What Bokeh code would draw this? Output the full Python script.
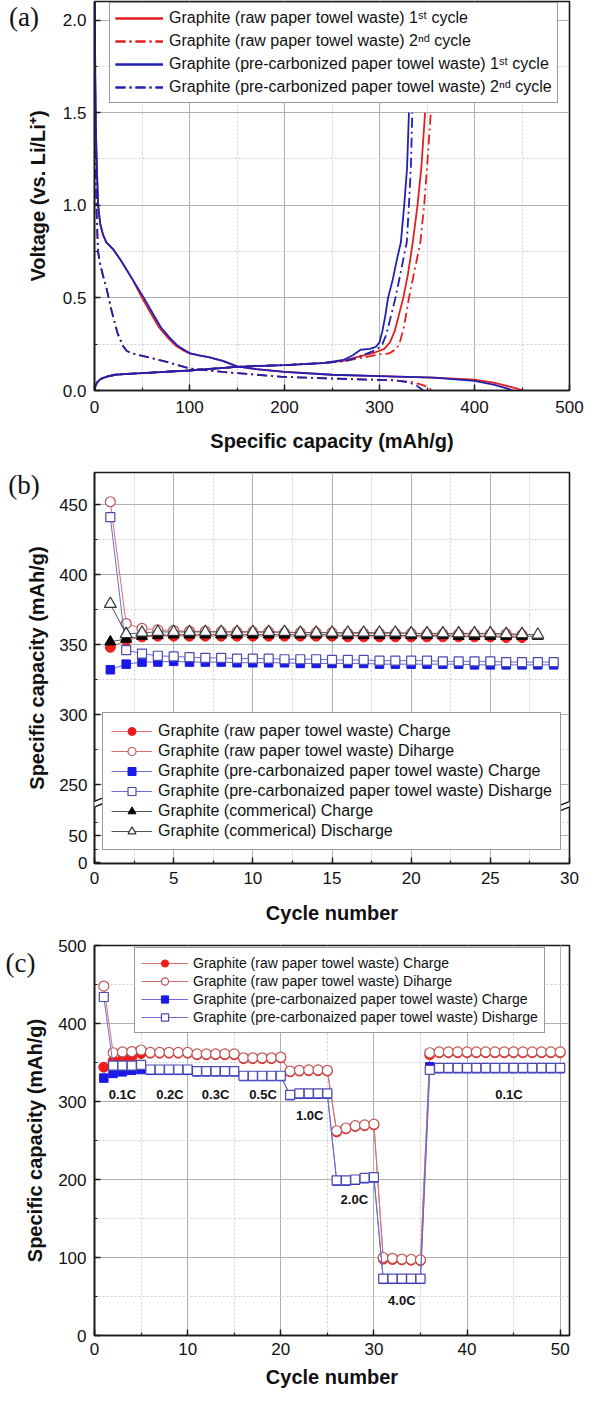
import math
from bokeh.plotting import figure
from bokeh.layouts import column
from bokeh.models import (Range1d, SingleIntervalTicker, FixedTicker, Label,
                          NumeralTickFormatter, Arrow, PolyAnnotation)
from bokeh.core.properties import value
from bokeh.embed import file_html
from bokeh.resources import INLINE

# ======================= DATA : panel (a) voltage profiles =======================
raw1_dis_cap = [0, 0.3, 0.8, 1.5, 2.5, 3.8, 6, 9, 12.5, 20, 28, 40, 50, 60, 68, 78, 86, 94, 100, 110,
                120, 135, 150, 170, 200, 250, 300, 357, 400, 420, 433, 443, 451]
raw1_dis_v = [2.8, 2.1, 1.7, 1.4, 1.2, 1.0, 0.9, 0.84, 0.8, 0.76, 0.7, 0.6, 0.5, 0.41, 0.34, 0.28, 0.24, 0.215, 0.2, 0.19,
              0.18, 0.16, 0.13, 0.115, 0.1, 0.085, 0.078, 0.07, 0.058, 0.042, 0.026, 0.013, 0.0]
raw1_chg_cap = [0, 1, 3, 6, 10, 15, 22, 35, 60, 100, 150, 200, 240, 262, 280, 295, 305, 311, 316, 320,
                325, 330, 335, 340, 344, 348]
raw1_chg_v = [0, 0.025, 0.045, 0.06, 0.07, 0.078, 0.085, 0.09, 0.097, 0.108, 0.128, 0.137, 0.148, 0.16, 0.185, 0.205,
              0.225, 0.26, 0.32, 0.4, 0.5, 0.63, 0.8, 1.0, 1.2, 1.5]

raw2_dis_cap = [0, 0.5, 1, 2, 3, 3.7, 6, 9, 12.3, 18, 24.2, 30, 34, 40, 48, 60, 75, 99, 135, 198,
                253, 316, 335, 345, 352, 355]
raw2_dis_v = [2.6, 1.8, 1.3, 1.0, 0.85, 0.75, 0.68, 0.62, 0.56, 0.43, 0.31, 0.24, 0.213, 0.2, 0.19, 0.175, 0.156, 0.12,
              0.1, 0.074, 0.064, 0.055, 0.045, 0.03, 0.015, 0.0]
raw2_chg_cap = [0, 1, 3, 6, 10, 15, 22, 35, 60, 100, 150, 200, 240, 265, 285, 300, 310, 318, 322, 326,
                331, 337, 343, 347, 350, 354]
raw2_chg_v = [0, 0.025, 0.045, 0.06, 0.07, 0.078, 0.085, 0.09, 0.097, 0.108, 0.128, 0.137, 0.148, 0.16, 0.18, 0.195,
              0.2, 0.225, 0.27, 0.35, 0.5, 0.65, 0.8, 1.0, 1.2, 1.5]

pre1_dis_cap = [0, 0.3, 0.8, 1.5, 2.5, 3.8, 6, 9, 12.5, 20, 28, 40, 52, 62, 70, 80, 88, 96, 101, 110,
                120, 135, 150, 170, 200, 250, 300, 357, 400, 420, 433, 440.5]
pre1_dis_v = [2.8, 2.1, 1.7, 1.4, 1.2, 1.0, 0.9, 0.84, 0.8, 0.76, 0.7, 0.6, 0.5, 0.41, 0.34, 0.28, 0.24, 0.215, 0.2, 0.19,
              0.18, 0.16, 0.13, 0.115, 0.1, 0.085, 0.078, 0.07, 0.052, 0.032, 0.013, 0.0]
pre1_chg_cap = [0, 1, 3, 6, 10, 15, 22, 35, 60, 100, 150, 200, 240, 262, 272, 280, 290, 296, 300, 303,
                306, 309, 314, 318, 322.5, 326, 329, 331]
pre1_chg_v = [0, 0.025, 0.045, 0.06, 0.07, 0.078, 0.085, 0.09, 0.097, 0.108, 0.128, 0.137, 0.148, 0.165, 0.19, 0.22,
              0.225, 0.235, 0.26, 0.32, 0.4, 0.5, 0.6, 0.7, 0.8, 1.0, 1.2, 1.5]

pre2_dis_cap = [0, 0.5, 1, 2, 3, 3.7, 6, 9, 12.3, 18, 24.2, 30, 34, 40, 48, 60, 75, 99, 135, 198,
                253, 316, 330, 338, 343, 346]
pre2_dis_v = [2.6, 1.8, 1.3, 1.0, 0.85, 0.75, 0.68, 0.62, 0.56, 0.43, 0.31, 0.24, 0.213, 0.2, 0.19, 0.175, 0.156, 0.12,
              0.1, 0.074, 0.064, 0.055, 0.045, 0.03, 0.012, 0.0]
pre2_chg_cap = [0, 1, 3, 6, 10, 15, 22, 35, 60, 100, 150, 200, 240, 265, 280, 292, 298, 303, 307, 311,
                316.8, 322, 328.7, 331, 333, 334.5]
pre2_chg_v = [0, 0.025, 0.045, 0.06, 0.07, 0.078, 0.085, 0.09, 0.097, 0.108, 0.128, 0.137, 0.148, 0.16, 0.185, 0.21,
              0.225, 0.25, 0.3, 0.38, 0.5, 0.63, 0.8, 1.0, 1.2, 1.5]

legend_a = ["Graphite (raw paper towel waste) 1\u02e2\u1d57 cycle",
            "Graphite (raw paper towel waste) 2\u207f\u1d48 cycle",
            "Graphite (pre-carbonized paper towel waste) 1\u02e2\u1d57 cycle",
            "Graphite (pre-carbonized paper towel waste) 2\u207f\u1d48 cycle"]

# ======================= DATA : panel (b) cycling =======================
b_cyc_raw = [1, 2, 3, 4, 5, 6, 7, 8, 9, 10, 11, 12, 13, 14, 15, 16, 17, 18, 19, 20, 21, 22, 23, 24, 25, 26, 27]
b_raw_chg = [348, 353, 355.5, 356, 356, 356, 356, 356, 356, 356, 356, 356, 356, 356, 356, 355.5, 355.5, 355.5,
             355.5, 355.5, 355.5, 355.5, 355.5, 355.5, 355.5, 355, 355]
b_raw_dis = [452, 365, 361.5, 360.5, 360, 359.5, 359.5, 359, 359, 359, 359, 358.5, 358.5, 358.5, 358.5, 358, 358,
             358, 358, 358, 357.5, 357.5, 357.5, 357.5, 357.5, 357.5, 357]

b_cyc_com = [1, 2, 3, 4, 5, 6, 7, 8, 9, 10, 11, 12, 13, 14, 15, 16, 17, 18, 19, 20, 21, 22, 23, 24, 25, 26, 27, 28]
b_com_chg = [352, 354, 356, 356.5, 357, 357, 357, 357, 357, 357, 357, 357, 357, 357, 357, 356.5, 356.5, 356.5,
             356.5, 356.5, 356.5, 356.5, 356, 356, 356, 356, 356, 356]
b_com_dis = [379, 357.5, 358.5, 359, 359, 359, 359, 359, 359, 359, 359, 359, 358.5, 358.5, 358.5, 358.5, 358.5,
             358.5, 358.5, 358, 358, 358, 358, 358, 358, 357.5, 357.5, 357]

b_cyc_pre = [1, 2, 3, 4, 5, 6, 7, 8, 9, 10, 11, 12, 13, 14, 15, 16, 17, 18, 19, 20, 21, 22, 23, 24, 25, 26, 27, 28, 29]
b_pre_chg = [332, 336, 337.5, 337.5, 338, 337.5, 337.5, 337.5, 337, 337, 337, 337, 336.5, 336.5, 336.5, 336.5,
             336.5, 336, 336, 336, 336, 336, 336, 335.5, 335.5, 335.5, 335.5, 335.5, 335.5]
b_pre_dis = [441, 346, 343.5, 342, 341.5, 341, 340.5, 340.5, 340, 340, 340, 339.5, 339.5, 339.5, 339, 339, 339,
             338.5, 338.5, 338.5, 338.5, 338, 338, 338, 338, 337.5, 337.5, 337.5, 337.5]

legend_b = ["Graphite (raw paper towel waste) Charge",
            "Graphite (raw paper towel waste) Diharge",
            "Graphite (pre-carbonaized paper towel waste) Charge",
            "Graphite (pre-carbonaized paper towel waste) Disharge",
            "Graphite (commerical) Charge",
            "Graphite (commerical) Discharge"]

# lower (broken) part of the (b) y axis: tick texts and their places on the axis
b_low_tick_pos = [194.0, 213.3]
b_low_tick_txt = ["0", "50"]
b_low_minor_pos = [203.6, 223.0]
b_upper_ticks = [250, 300, 350, 400, 450]
b_upper_minor = [275, 325, 375, 425]

# ======================= DATA : panel (c) rate capability =======================
c_cyc = [1, 2, 3, 4, 5, 6, 7, 8, 9, 10, 11, 12, 13, 14, 15, 16, 17, 18, 19, 20, 21, 22, 23, 24, 25,
         26, 27, 28, 29, 30, 31, 32, 33, 34, 35, 36, 37, 38, 39, 40, 41, 42, 43, 44, 45, 46, 47, 48, 49, 50]
c_raw_dis = [448, 362.5, 363.5, 364, 366, 363, 363, 363, 363, 363,
             361, 361, 361, 361, 361, 356, 356, 356, 356, 357,
             339, 340, 340.5, 340.5, 340, 262.5, 266, 269, 270, 271,
             100, 99, 98, 97.5, 97, 362.5, 363.5, 363.5, 363.5, 363.5,
             363.5, 363.5, 363.5, 363.5, 363.5, 363.5, 363.5, 363.5, 363.5, 363.5]
c_raw_chg = [344, 352, 354, 357, 361.5, 362, 362, 362, 362, 362,
             360, 360, 360, 360, 360, 355, 355, 355, 355, 356,
             338, 339, 339.5, 339.5, 339, 261, 265, 268, 269, 270,
             98, 97.5, 97, 96.5, 96, 360, 362.5, 362.5, 362.5, 362.5,
             362.5, 362.5, 362.5, 362.5, 362.5, 362.5, 362.5, 362.5, 362.5, 362.5]
c_pre_dis = [434, 346, 346, 346, 347, 341, 341, 341, 341, 341,
             339, 339, 339, 339, 339, 333, 333, 333, 333, 333,
             308.5, 310.5, 310.5, 310.5, 310.5, 199, 199, 200, 202, 203,
             73, 73, 73, 73, 73, 340.5, 343, 343, 343, 343,
             343, 343, 343, 343, 343, 343, 343, 343, 343, 343]
c_pre_chg = [330, 336, 338, 340, 341, 340, 340, 340, 340, 340,
             338, 338, 338, 338, 338, 332, 332, 332, 332, 332,
             307.5, 309.5, 309.5, 309.5, 309.5, 198, 198, 199, 201, 202,
             72, 72, 72, 72, 72, 344.5, 342, 342, 342, 342,
             342, 342, 342, 342, 342, 342, 342, 342, 342, 342]
c_rate_text = ["0.1C", "0.2C", "0.3C", "0.5C", "1.0C", "2.0C", "4.0C", "0.1C"]
c_rate_x = [3.0, 8.1, 13.0, 18.1, 23.1, 27.9, 33.0, 44.5]
c_rate_y = [309, 309, 309, 309, 282, 174, 45, 309]

# ======================= STYLE =======================
FONT = "Liberation Sans"
SERIF = "Liberation Serif"
INK = "#1a1a1a"
RED = "#e02020"
BLUE = "#2020b4"
DASHDOT = "10 4 2 4"
RED_LINE = "#d87070"
RED_EDGE = "#c05555"
RED_FILL = "#ee1c1c"
BLUE_LINE = "#6a6ad0"
BLUE_EDGE = "#4b4bb0"
BLUE_FILL = "#1a1ae6"
BLK_LINE = "#555555"


def style(p, xlabel, x_lab_std, y_lab_std, x_ttl_std):
    p.outline_line_color = INK
    p.outline_line_width = 1.6
    p.outline_line_alpha = 1
    for ax in (p.xaxis[0], p.yaxis[0]):
        ax.axis_line_color = INK
        ax.axis_line_width = 1.6
        ax.major_tick_in = 6
        ax.major_tick_out = 0
        ax.minor_tick_in = 3
        ax.minor_tick_out = 0
        ax.major_tick_line_color = INK
        ax.major_tick_line_width = 1.4
        ax.minor_tick_line_color = INK
        ax.minor_tick_line_width = 1.2
        ax.major_label_text_font = FONT
        ax.major_label_text_font_size = "17px"
        ax.major_label_text_color = "#111111"
        ax.axis_label_text_font = FONT
        ax.axis_label_text_font_style = "bold"
        ax.axis_label_text_font_size = "20px"
        ax.axis_label_text_color = "#111111"
    p.xaxis[0].axis_label = xlabel
    p.xaxis[0].major_label_standoff = x_lab_std
    p.yaxis[0].major_label_standoff = y_lab_std
    p.xaxis[0].axis_label_standoff = x_ttl_std
    for g in p.grid:
        g.grid_line_color = "#b0b0b0"
        g.grid_line_width = 1
        g.minor_grid_line_color = "#cfcfcf"
        g.minor_grid_line_dash = "2 2"
        g.minor_grid_line_width = 1


def style_legend(leg, loc, font_size, glyph_w, label_h, spacing, padding, standoff):
    leg.location = loc
    leg.margin = 0
    leg.padding = padding
    leg.spacing = spacing
    leg.glyph_width = glyph_w
    leg.glyph_height = label_h
    leg.label_height = label_h
    leg.label_standoff = standoff
    leg.label_text_font = FONT
    leg.label_text_font_size = font_size
    leg.label_text_color = "#111111"
    leg.border_line_color = "#333333"
    leg.border_line_width = 1
    leg.background_fill_color = "white"
    leg.background_fill_alpha = 1


def set_ticker(p, xt, yt):
    p.xaxis[0].ticker = xt
    p.xgrid[0].ticker = xt
    p.yaxis[0].ticker = yt
    p.ygrid[0].ticker = yt


def side_texts(p, tag_x, tag_y, tag_text, title_x, title_y, title_text):
    # panel tag and rotated y-axis title, kept in the left side panel so they are not clipped
    p.add_layout(Label(x=tag_x, y=tag_y, text=tag_text, text_font=SERIF, text_font_size="27px",
                       text_baseline="top", text_align="left", text_color="#111111"), "left")
    p.add_layout(Label(x=title_x, y=title_y, text=title_text, text_font=FONT, text_font_size="20px",
                       text_font_style="bold", angle=math.pi / 2, text_baseline="middle",
                       text_align="center", text_color="#111111"), "left")


# ----------------------- panel (a) -----------------------
pa = figure(width=586, height=460, x_range=Range1d(0, 500), y_range=Range1d(0, 2.1),
            output_backend="svg", toolbar_location=None,
            min_border_left=90, min_border_right=17, min_border_top=1, min_border_bottom=70)
set_ticker(pa, SingleIntervalTicker(interval=100, num_minor_ticks=2),
           SingleIntervalTicker(interval=0.5, num_minor_ticks=2))
style(pa, "Specific capacity (mAh/g)", 10, 8, 14)
pa.yaxis[0].formatter = NumeralTickFormatter(format="0.0")

pa.line(raw1_dis_cap, raw1_dis_v, color=RED, line_width=1.8, legend_label=legend_a[0])
pa.line(raw1_chg_cap, raw1_chg_v, color=RED, line_width=1.8, legend_label=legend_a[0])
pa.line(raw2_dis_cap, raw2_dis_v, color=RED, line_width=1.8, line_dash=DASHDOT, legend_label=legend_a[1])
pa.line(raw2_chg_cap, raw2_chg_v, color=RED, line_width=1.8, line_dash=DASHDOT, legend_label=legend_a[1])
pa.line(pre1_dis_cap, pre1_dis_v, color=BLUE, line_width=1.8, legend_label=legend_a[2])
pa.line(pre1_chg_cap, pre1_chg_v, color=BLUE, line_width=1.8, legend_label=legend_a[2])
pa.line(pre2_dis_cap, pre2_dis_v, color=BLUE, line_width=1.8, line_dash=DASHDOT, legend_label=legend_a[3])
pa.line(pre2_chg_cap, pre2_chg_v, color=BLUE, line_width=1.8, line_dash=DASHDOT, legend_label=legend_a[3])
style_legend(pa.legend[0], (15, 287), "16px", 48, 20, 3, 5, 6)
side_texts(pa, -90, 2.095, "(a)", -59.5, 1.05, "Voltage (vs. Li/Li\u207a)")

# ----------------------- panel (b) -----------------------
pb = figure(width=586, height=470, x_range=Range1d(0, 30), y_range=Range1d(193.6, 472.9),
            output_backend="svg", toolbar_location=None,
            min_border_left=90, min_border_right=17, min_border_top=12, min_border_bottom=67)
set_ticker(pb, SingleIntervalTicker(interval=5, num_minor_ticks=2),
           FixedTicker(ticks=b_low_tick_pos + b_upper_ticks, minor_ticks=b_low_minor_pos + b_upper_minor))
style(pb, "Cycle number", 8, 7, 15)
pb.yaxis[0].major_label_overrides = {pos: txt for pos, txt in zip(b_low_tick_pos, b_low_tick_txt)}

pb.line(b_cyc_raw, b_raw_chg, color=RED_LINE, line_width=1, legend_label=legend_b[0])
pb.scatter(b_cyc_raw, b_raw_chg, marker="circle", size=10, fill_color=RED_FILL, line_color=RED_FILL,
           legend_label=legend_b[0])
pb.line(b_cyc_raw, b_raw_dis, color=RED_LINE, line_width=1, legend_label=legend_b[1])
pb.scatter(b_cyc_raw, b_raw_dis, marker="circle", size=10, fill_color="white", line_color=RED_EDGE,
           line_width=1.2, legend_label=legend_b[1])
pb.line(b_cyc_pre, b_pre_chg, color=BLUE_LINE, line_width=1, legend_label=legend_b[2])
pb.scatter(b_cyc_pre, b_pre_chg, marker="square", size=8.5, fill_color=BLUE_FILL, line_color=BLUE_FILL,
           legend_label=legend_b[2])
pb.line(b_cyc_pre, b_pre_dis, color=BLUE_LINE, line_width=1, legend_label=legend_b[3])
pb.scatter(b_cyc_pre, b_pre_dis, marker="square", size=9, fill_color="white", line_color=BLUE_EDGE,
           line_width=1.2, legend_label=legend_b[3])
pb.line(b_cyc_com, b_com_chg, color=BLK_LINE, line_width=1, legend_label=legend_b[4])
pb.scatter(b_cyc_com, b_com_chg, marker="triangle", size=11, fill_color="black", line_color="black",
           legend_label=legend_b[4])
pb.line(b_cyc_com, b_com_dis, color=BLK_LINE, line_width=1, legend_label=legend_b[5])
pb.scatter(b_cyc_com, b_com_dis, marker="triangle", size=12, fill_color="white", line_color="#333333",
           line_width=1.2, legend_label=legend_b[5])
style_legend(pb.legend[0], (8, 13), "16px", 41, 20, 0, 8, 6)
side_texts(pb, -5.45, 475.0, "(b)", -3.63, 333.25, "Specific capacity (mAh/g)")
# axis-break marks on both vertical sides (side panels, so they may cross the frame edge)
for xb, side in ((0, "left"), (30, "right")):
    pb.add_layout(PolyAnnotation(xs=[xb - 0.65, xb + 0.65, xb + 0.65, xb - 0.65],
                                 ys=[231.0, 237.0, 241.0, 235.0],
                                 fill_color="white", fill_alpha=1, line_alpha=0), side)
    pb.add_layout(Arrow(end=None, x_start=xb - 0.65, y_start=231.0, x_end=xb + 0.65, y_end=237.0,
                        line_color=INK, line_width=1.4), side)
    pb.add_layout(Arrow(end=None, x_start=xb - 0.65, y_start=235.0, x_end=xb + 0.65, y_end=241.0,
                        line_color=INK, line_width=1.4), side)

# ----------------------- panel (c) -----------------------
pc = figure(width=586, height=464, x_range=Range1d(0, 51), y_range=Range1d(0, 500),
            output_backend="svg", toolbar_location=None,
            min_border_left=94, min_border_right=17, min_border_top=15, min_border_bottom=59)
set_ticker(pc, SingleIntervalTicker(interval=10, num_minor_ticks=2),
           SingleIntervalTicker(interval=100, num_minor_ticks=2))
style(pc, "Cycle number", 7, 8, 8)

pc.line(c_cyc, c_raw_chg, color=RED_LINE, line_width=1, legend_label=legend_b[0])
pc.scatter(c_cyc, c_raw_chg, marker="circle", size=10, fill_color=RED_FILL, line_color=RED_FILL,
           legend_label=legend_b[0])
pc.line(c_cyc, c_raw_dis, color=RED_LINE, line_width=1, legend_label=legend_b[1])
pc.scatter(c_cyc, c_raw_dis, marker="circle", size=10, fill_color="white", line_color=RED_EDGE,
           line_width=1.2, legend_label=legend_b[1])
pc.line(c_cyc, c_pre_chg, color=BLUE_LINE, line_width=1, legend_label=legend_b[2])
pc.scatter(c_cyc, c_pre_chg, marker="square", size=8.5, fill_color=BLUE_FILL, line_color=BLUE_FILL,
           legend_label=legend_b[2])
pc.line(c_cyc, c_pre_dis, color=BLUE_LINE, line_width=1, legend_label=legend_b[3])
pc.scatter(c_cyc, c_pre_dis, marker="square", size=9, fill_color="white", line_color=BLUE_EDGE,
           line_width=1.2, legend_label=legend_b[3])
pc.text(x=c_rate_x, y=c_rate_y, text=c_rate_text, text_font=value(FONT), text_font_style="bold",
        text_font_size="13px", text_align="center", text_baseline="middle", text_color="#111111")
style_legend(pc.legend[0], (40, 302), "14px", 47, 18, 0, 6, 5)
side_texts(pc, -9.56, 497.4, "(c)", -6.44, 250.0, "Specific capacity (mAh/g)")

layout = column(pa, pb, pc, spacing=0)
open("out.html", "w").write(file_html(layout, INLINE))
